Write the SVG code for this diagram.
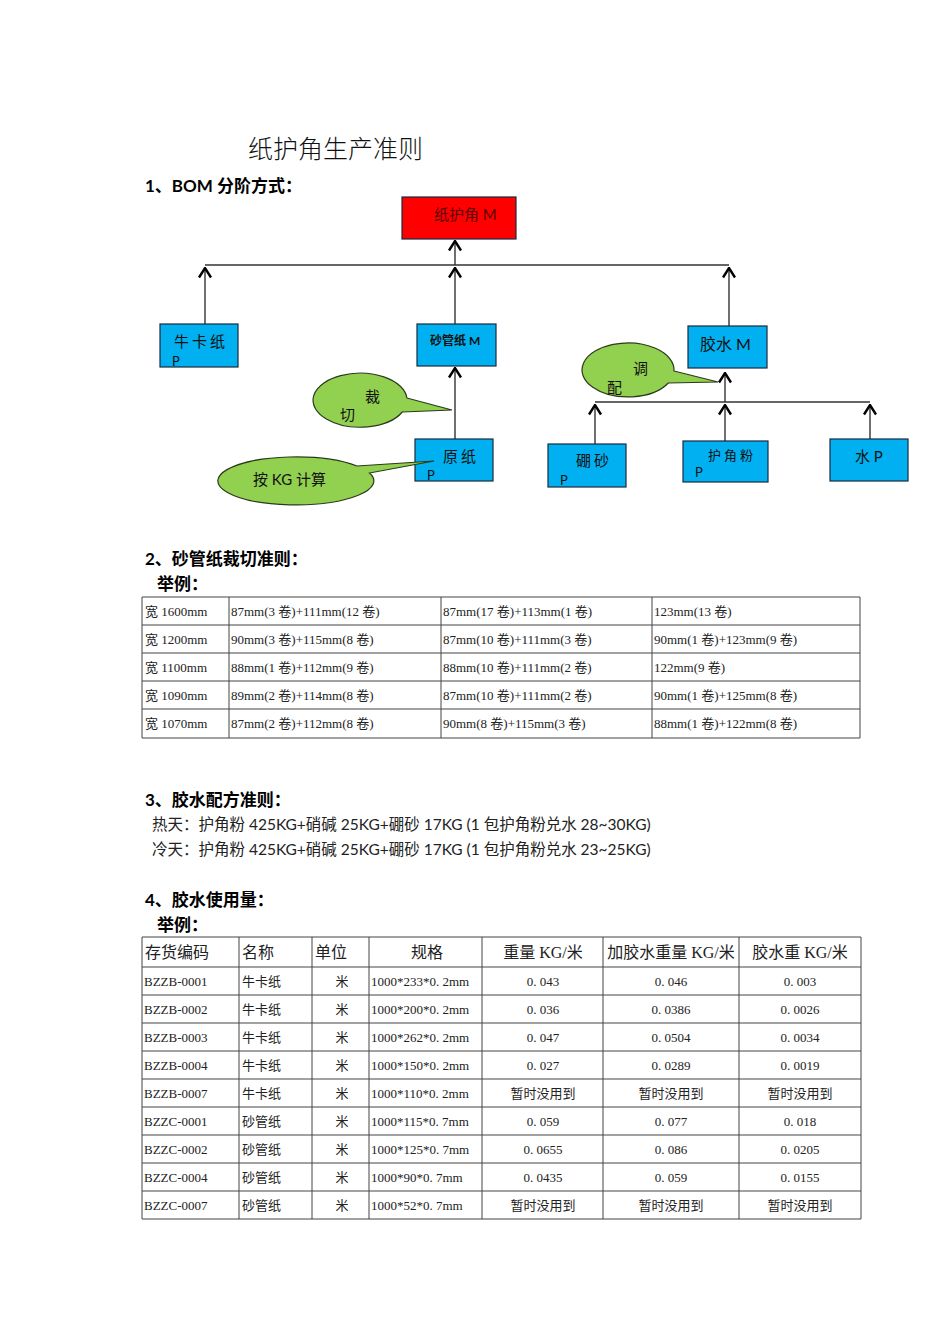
<svg xmlns="http://www.w3.org/2000/svg" width="950" height="1344" viewBox="0 0 950 1344">
<style>
.bg{fill:#ffffff}
.box{stroke:#1a2a40;stroke-width:1.2}
.blue{fill:#00B0F0}
.red{fill:#FF0000}
.bub{fill:#92D050;stroke:#2b3a1a;stroke-width:1.2}
.lt{font-family:Lato,"Noto Sans CJK SC",sans-serif;fill:#111}
.nt{font-family:Lato,"Noto Sans CJK SC",sans-serif;fill:#111;font-size:15px}
.sp{letter-spacing:3px}
.np{font-family:Lato,"Noto Sans CJK SC",sans-serif;fill:#111;font-size:13px}
.hd{font-family:Lato,"Noto Sans CJK SC",sans-serif;font-weight:bold;font-size:17px;fill:#000}
.body{font-family:Lato,"Noto Sans CJK SC",sans-serif;font-size:15.5px;fill:#222}
.tt{font-family:"Liberation Serif","Noto Sans CJK SC",serif;font-size:13px;fill:#222}
.th{font-family:"Liberation Serif","Noto Sans CJK SC",serif;font-size:16px;fill:#222}
.c{text-anchor:middle}
.grid line{stroke:#444;stroke-width:1}
.conn line{stroke:#333;stroke-width:1.4}
</style>
<defs>
<marker id="caret" viewBox="0 0 12 14" refX="10.5" refY="7" markerWidth="12" markerHeight="14" markerUnits="userSpaceOnUse" orient="auto">
<path d="M 1 1 L 10.5 7 L 1 13" fill="none" stroke="#000" stroke-width="2.4"/>
</marker>
</defs>
<rect class="bg" x="0" y="0" width="950" height="1344"/>

<text class="lt" x="248" y="158" font-size="25" font-weight="300">纸护角生产准则</text>
<text class="hd" x="145" y="192">1、BOM 分阶方式：</text>

<g id="connectors" class="conn">
<line x1="205" y1="265" x2="729" y2="265"/>
<line x1="455" y1="265" x2="455" y2="241" marker-end="url(#caret)"/>
<line x1="205" y1="324" x2="205" y2="268" marker-end="url(#caret)"/>
<line x1="455" y1="324" x2="455" y2="268" marker-end="url(#caret)"/>
<line x1="729" y1="326" x2="729" y2="268" marker-end="url(#caret)"/>
<line x1="455" y1="439" x2="455" y2="368" marker-end="url(#caret)"/>
<line x1="595" y1="402" x2="870" y2="402"/>
<line x1="725" y1="402" x2="725" y2="373" marker-end="url(#caret)"/>
<line x1="595" y1="444" x2="595" y2="405" marker-end="url(#caret)"/>
<line x1="725" y1="441" x2="725" y2="405" marker-end="url(#caret)"/>
<line x1="870" y1="439" x2="870" y2="405" marker-end="url(#caret)"/>
</g>

<g id="node-zhihujiao">
<rect class="box red" x="402" y="197" width="114" height="42"/>
<text class="nt" x="434" y="220" style="fill:#5a0000">纸护角 M</text>
</g>
<g id="node-niukazhi">
<rect class="box blue" x="160" y="324" width="78" height="43"/>
<text class="nt sp" x="174" y="347">牛卡纸</text>
<text class="np" x="172" y="366">P</text>
</g>
<g id="node-shaguanzhi">
<rect class="box blue" x="417" y="324" width="79" height="42"/>
<text class="lt" x="430" y="345" font-size="12" font-weight="bold">砂管纸 M</text>
</g>
<g id="node-jiaoshui">
<rect class="box blue" x="688" y="326" width="79" height="42"/>
<text class="lt" x="700" y="350" font-size="16">胶水 M</text>
</g>
<g id="node-yuanzhi">
<rect class="box blue" x="415" y="439" width="78" height="42"/>
<text class="nt sp" x="443" y="462">原纸</text>
<text class="np" x="427" y="480">P</text>
</g>
<g id="node-pengsha">
<rect class="box blue" x="548" y="444" width="78" height="43"/>
<text class="nt sp" x="576" y="466">硼砂</text>
<text class="np" x="560" y="485">P</text>
</g>
<g id="node-hujiaofen">
<rect class="box blue" x="683" y="441" width="85" height="41"/>
<text class="lt sp" x="708" y="460" font-size="13">护角粉</text>
<text class="np" x="695" y="477">P</text>
</g>
<g id="node-shui">
<rect class="box blue" x="830" y="439" width="78" height="42"/>
<text class="nt" x="855" y="462">水 P</text>
</g>

<g id="callout-caiqie">
<path class="bub" d="M 406.9 398 L 452 410 L 402.3 412 A 47 27 0 1 1 406.9 398 Z"/>
<text class="nt" x="365" y="402">裁</text>
<text class="nt" x="340" y="420">切</text>
</g>
<g id="callout-kg">
<path class="bub" d="M 357 466 L 434 461 L 369.5 473 A 78 24 0 1 1 357 466 Z"/>
<text class="nt" x="253" y="485">按 KG 计算</text>
</g>
<g id="callout-tiaopei">
<path class="bub" d="M 674 371 L 718 382 L 668.3 383 A 46 27 0 1 1 674 371 Z"/>
<text class="nt" x="633" y="374">调</text>
<text class="nt" x="607" y="393">配</text>
</g>

<text class="hd" x="145" y="565">2、砂管纸裁切准则：</text>
<text class="hd" x="157" y="590">举例：</text>

<g id="table1">
<g class="grid">
<line x1="142" y1="597" x2="860" y2="597"/>
<line x1="142" y1="625" x2="860" y2="625"/>
<line x1="142" y1="653" x2="860" y2="653"/>
<line x1="142" y1="681" x2="860" y2="681"/>
<line x1="142" y1="709" x2="860" y2="709"/>
<line x1="142" y1="738" x2="860" y2="738"/>
<line x1="142" y1="597" x2="142" y2="738"/>
<line x1="229" y1="597" x2="229" y2="738"/>
<line x1="441" y1="597" x2="441" y2="738"/>
<line x1="652" y1="597" x2="652" y2="738"/>
<line x1="860" y1="597" x2="860" y2="738"/>
</g>
<text class="tt" x="145" y="616">宽 1600mm</text>
<text class="tt" x="231" y="616">87mm(3 卷)+111mm(12 卷)</text>
<text class="tt" x="443" y="616">87mm(17 卷)+113mm(1 卷)</text>
<text class="tt" x="654" y="616">123mm(13 卷)</text>
<text class="tt" x="145" y="644">宽 1200mm</text>
<text class="tt" x="231" y="644">90mm(3 卷)+115mm(8 卷)</text>
<text class="tt" x="443" y="644">87mm(10 卷)+111mm(3 卷)</text>
<text class="tt" x="654" y="644">90mm(1 卷)+123mm(9 卷)</text>
<text class="tt" x="145" y="672">宽 1100mm</text>
<text class="tt" x="231" y="672">88mm(1 卷)+112mm(9 卷)</text>
<text class="tt" x="443" y="672">88mm(10 卷)+111mm(2 卷)</text>
<text class="tt" x="654" y="672">122mm(9 卷)</text>
<text class="tt" x="145" y="700">宽 1090mm</text>
<text class="tt" x="231" y="700">89mm(2 卷)+114mm(8 卷)</text>
<text class="tt" x="443" y="700">87mm(10 卷)+111mm(2 卷)</text>
<text class="tt" x="654" y="700">90mm(1 卷)+125mm(8 卷)</text>
<text class="tt" x="145" y="728">宽 1070mm</text>
<text class="tt" x="231" y="728">87mm(2 卷)+112mm(8 卷)</text>
<text class="tt" x="443" y="728">90mm(8 卷)+115mm(3 卷)</text>
<text class="tt" x="654" y="728">88mm(1 卷)+122mm(8 卷)</text>
</g>

<text class="hd" x="145" y="806">3、胶水配方准则：</text>
<text class="body" x="152" y="830">热天：护角粉 425KG+硝碱 25KG+硼砂 17KG (1 包护角粉兑水 28~30KG)</text>
<text class="body" x="152" y="855">冷天：护角粉 425KG+硝碱 25KG+硼砂 17KG (1 包护角粉兑水 23~25KG)</text>

<text class="hd" x="145" y="906">4、胶水使用量：</text>
<text class="hd" x="157" y="931">举例：</text>

<g id="table2">
<g class="grid">
<line x1="142" y1="937" x2="861" y2="937"/>
<line x1="142" y1="967" x2="861" y2="967"/>
<line x1="142" y1="995" x2="861" y2="995"/>
<line x1="142" y1="1023" x2="861" y2="1023"/>
<line x1="142" y1="1051" x2="861" y2="1051"/>
<line x1="142" y1="1079" x2="861" y2="1079"/>
<line x1="142" y1="1107" x2="861" y2="1107"/>
<line x1="142" y1="1135" x2="861" y2="1135"/>
<line x1="142" y1="1163" x2="861" y2="1163"/>
<line x1="142" y1="1191" x2="861" y2="1191"/>
<line x1="142" y1="1219" x2="861" y2="1219"/>
<line x1="142" y1="937" x2="142" y2="1219"/>
<line x1="239" y1="937" x2="239" y2="1219"/>
<line x1="312" y1="937" x2="312" y2="1219"/>
<line x1="369" y1="937" x2="369" y2="1219"/>
<line x1="482" y1="937" x2="482" y2="1219"/>
<line x1="603" y1="937" x2="603" y2="1219"/>
<line x1="739" y1="937" x2="739" y2="1219"/>
<line x1="861" y1="937" x2="861" y2="1219"/>
</g>
<text class="th" x="145" y="958">存货编码</text>
<text class="th" x="242" y="958">名称</text>
<text class="th" x="315" y="958">单位</text>
<text class="th c" x="427" y="958">规格</text>
<text class="th c" x="543" y="958">重量 KG/米</text>
<text class="th c" x="671" y="958">加胶水重量 KG/米</text>
<text class="th c" x="800" y="958">胶水重 KG/米</text>

<text class="tt" x="144" y="986">BZZB-0001</text><text class="tt" x="242" y="986">牛卡纸</text><text class="tt c" x="342" y="986">米</text><text class="tt" x="371" y="986">1000*233*0. 2mm</text><text class="tt c" x="543" y="986">0. 043</text><text class="tt c" x="671" y="986">0. 046</text><text class="tt c" x="800" y="986">0. 003</text>
<text class="tt" x="144" y="1014">BZZB-0002</text><text class="tt" x="242" y="1014">牛卡纸</text><text class="tt c" x="342" y="1014">米</text><text class="tt" x="371" y="1014">1000*200*0. 2mm</text><text class="tt c" x="543" y="1014">0. 036</text><text class="tt c" x="671" y="1014">0. 0386</text><text class="tt c" x="800" y="1014">0. 0026</text>
<text class="tt" x="144" y="1042">BZZB-0003</text><text class="tt" x="242" y="1042">牛卡纸</text><text class="tt c" x="342" y="1042">米</text><text class="tt" x="371" y="1042">1000*262*0. 2mm</text><text class="tt c" x="543" y="1042">0. 047</text><text class="tt c" x="671" y="1042">0. 0504</text><text class="tt c" x="800" y="1042">0. 0034</text>
<text class="tt" x="144" y="1070">BZZB-0004</text><text class="tt" x="242" y="1070">牛卡纸</text><text class="tt c" x="342" y="1070">米</text><text class="tt" x="371" y="1070">1000*150*0. 2mm</text><text class="tt c" x="543" y="1070">0. 027</text><text class="tt c" x="671" y="1070">0. 0289</text><text class="tt c" x="800" y="1070">0. 0019</text>
<text class="tt" x="144" y="1098">BZZB-0007</text><text class="tt" x="242" y="1098">牛卡纸</text><text class="tt c" x="342" y="1098">米</text><text class="tt" x="371" y="1098">1000*110*0. 2mm</text><text class="tt c" x="543" y="1098">暂时没用到</text><text class="tt c" x="671" y="1098">暂时没用到</text><text class="tt c" x="800" y="1098">暂时没用到</text>
<text class="tt" x="144" y="1126">BZZC-0001</text><text class="tt" x="242" y="1126">砂管纸</text><text class="tt c" x="342" y="1126">米</text><text class="tt" x="371" y="1126">1000*115*0. 7mm</text><text class="tt c" x="543" y="1126">0. 059</text><text class="tt c" x="671" y="1126">0. 077</text><text class="tt c" x="800" y="1126">0. 018</text>
<text class="tt" x="144" y="1154">BZZC-0002</text><text class="tt" x="242" y="1154">砂管纸</text><text class="tt c" x="342" y="1154">米</text><text class="tt" x="371" y="1154">1000*125*0. 7mm</text><text class="tt c" x="543" y="1154">0. 0655</text><text class="tt c" x="671" y="1154">0. 086</text><text class="tt c" x="800" y="1154">0. 0205</text>
<text class="tt" x="144" y="1182">BZZC-0004</text><text class="tt" x="242" y="1182">砂管纸</text><text class="tt c" x="342" y="1182">米</text><text class="tt" x="371" y="1182">1000*90*0. 7mm</text><text class="tt c" x="543" y="1182">0. 0435</text><text class="tt c" x="671" y="1182">0. 059</text><text class="tt c" x="800" y="1182">0. 0155</text>
<text class="tt" x="144" y="1210">BZZC-0007</text><text class="tt" x="242" y="1210">砂管纸</text><text class="tt c" x="342" y="1210">米</text><text class="tt" x="371" y="1210">1000*52*0. 7mm</text><text class="tt c" x="543" y="1210">暂时没用到</text><text class="tt c" x="671" y="1210">暂时没用到</text><text class="tt c" x="800" y="1210">暂时没用到</text>
</g>
</svg>
